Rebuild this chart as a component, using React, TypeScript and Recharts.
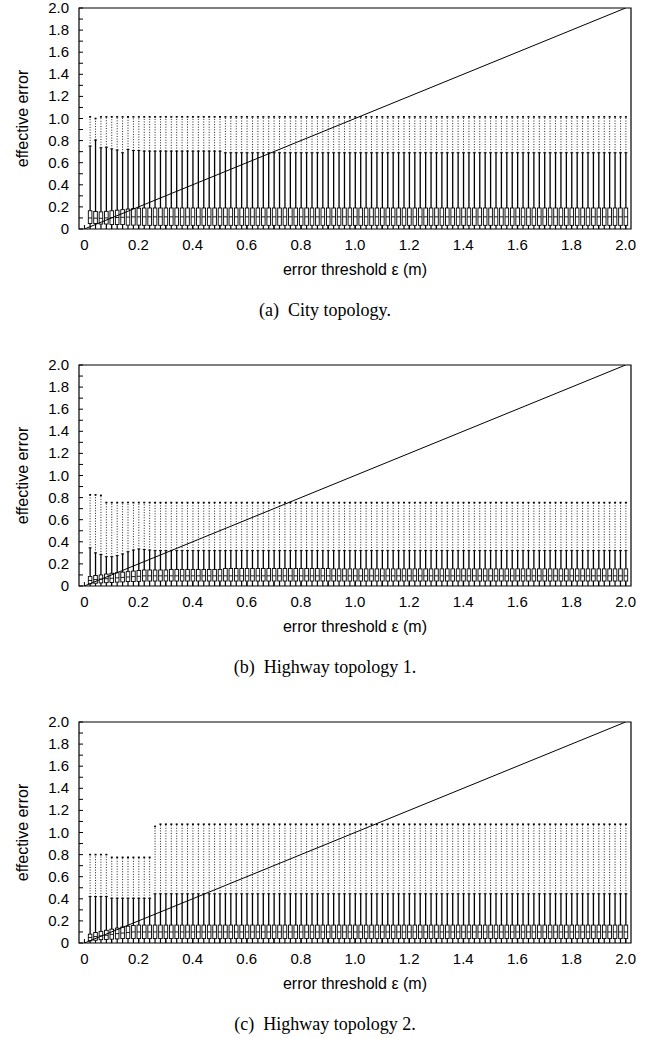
import { ComposedChart, Bar, Line, XAxis, YAxis, ReferenceArea } from 'recharts'

// error threshold ε (m) of each box
const thresholds = [
  0.02, 0.04, 0.06, 0.08, 0.10, 0.12, 0.14, 0.16, 0.18, 0.20,
  0.22, 0.24, 0.26, 0.28, 0.30, 0.32, 0.34, 0.36, 0.38, 0.40,
  0.42, 0.44, 0.46, 0.48, 0.50, 0.52, 0.54, 0.56, 0.58, 0.60,
  0.62, 0.64, 0.66, 0.68, 0.70, 0.72, 0.74, 0.76, 0.78, 0.80,
  0.82, 0.84, 0.86, 0.88, 0.90, 0.92, 0.94, 0.96, 0.98, 1.00,
  1.02, 1.04, 1.06, 1.08, 1.10, 1.12, 1.14, 1.16, 1.18, 1.20,
  1.22, 1.24, 1.26, 1.28, 1.30, 1.32, 1.34, 1.36, 1.38, 1.40,
  1.42, 1.44, 1.46, 1.48, 1.50, 1.52, 1.54, 1.56, 1.58, 1.60,
  1.62, 1.64, 1.66, 1.68, 1.70, 1.72, 1.74, 1.76, 1.78, 1.80,
  1.82, 1.84, 1.86, 1.88, 1.90, 1.92, 1.94, 1.96, 1.98, 2.00,
]

const MIN_ERR = 0

// (a) City topology
const cityQ1 = [
  0.050, 0.050, 0.045, 0.045, 0.040, 0.040, 0.040, 0.035, 0.035, 0.035,
  0.033, 0.033, 0.033, 0.033, 0.033, 0.033, 0.033, 0.033, 0.033, 0.033,
  0.033, 0.033, 0.033, 0.033, 0.033, 0.033, 0.033, 0.033, 0.033, 0.033,
  0.033, 0.033, 0.033, 0.033, 0.033, 0.033, 0.033, 0.033, 0.033, 0.033,
  0.033, 0.033, 0.033, 0.033, 0.033, 0.033, 0.033, 0.033, 0.033, 0.033,
  0.033, 0.033, 0.033, 0.033, 0.033, 0.033, 0.033, 0.033, 0.033, 0.033,
  0.033, 0.033, 0.033, 0.033, 0.033, 0.033, 0.033, 0.033, 0.033, 0.033,
  0.033, 0.033, 0.033, 0.033, 0.033, 0.033, 0.033, 0.033, 0.033, 0.033,
  0.033, 0.033, 0.033, 0.033, 0.033, 0.033, 0.033, 0.033, 0.033, 0.033,
  0.033, 0.033, 0.033, 0.033, 0.033, 0.033, 0.033, 0.033, 0.033, 0.033,
]
const cityMed = [
  0.100, 0.098, 0.097, 0.100, 0.102, 0.104, 0.106, 0.108, 0.110, 0.110,
  0.110, 0.110, 0.110, 0.110, 0.110, 0.110, 0.110, 0.110, 0.110, 0.110,
  0.110, 0.110, 0.110, 0.110, 0.110, 0.110, 0.110, 0.110, 0.110, 0.110,
  0.110, 0.110, 0.110, 0.110, 0.110, 0.110, 0.110, 0.110, 0.110, 0.110,
  0.110, 0.110, 0.110, 0.110, 0.110, 0.110, 0.110, 0.110, 0.110, 0.110,
  0.110, 0.110, 0.110, 0.110, 0.110, 0.110, 0.110, 0.110, 0.110, 0.110,
  0.110, 0.110, 0.110, 0.110, 0.110, 0.110, 0.110, 0.110, 0.110, 0.110,
  0.110, 0.110, 0.110, 0.110, 0.110, 0.110, 0.110, 0.110, 0.110, 0.110,
  0.110, 0.110, 0.110, 0.110, 0.110, 0.110, 0.110, 0.110, 0.110, 0.110,
  0.110, 0.110, 0.110, 0.110, 0.110, 0.110, 0.110, 0.110, 0.110, 0.110,
]
const cityQ3 = [
  0.165, 0.158, 0.155, 0.160, 0.165, 0.170, 0.175, 0.180, 0.185, 0.188,
  0.190, 0.190, 0.190, 0.190, 0.190, 0.190, 0.190, 0.190, 0.190, 0.190,
  0.190, 0.190, 0.190, 0.190, 0.190, 0.190, 0.190, 0.190, 0.190, 0.190,
  0.190, 0.190, 0.190, 0.190, 0.190, 0.190, 0.190, 0.190, 0.190, 0.190,
  0.190, 0.190, 0.190, 0.190, 0.190, 0.190, 0.190, 0.190, 0.190, 0.190,
  0.190, 0.190, 0.190, 0.190, 0.190, 0.190, 0.190, 0.190, 0.190, 0.190,
  0.190, 0.190, 0.190, 0.190, 0.190, 0.190, 0.190, 0.190, 0.190, 0.190,
  0.190, 0.190, 0.190, 0.190, 0.190, 0.190, 0.190, 0.190, 0.190, 0.190,
  0.190, 0.190, 0.190, 0.190, 0.190, 0.190, 0.190, 0.190, 0.190, 0.190,
  0.190, 0.190, 0.190, 0.190, 0.190, 0.190, 0.190, 0.190, 0.190, 0.190,
]
const cityHi = [
  0.750, 0.805, 0.735, 0.740, 0.725, 0.715, 0.690, 0.720, 0.710, 0.710,
  0.705, 0.705, 0.705, 0.705, 0.705, 0.705, 0.705, 0.705, 0.705, 0.705,
  0.705, 0.705, 0.705, 0.705, 0.705, 0.690, 0.690, 0.690, 0.690, 0.690,
  0.690, 0.690, 0.690, 0.690, 0.690, 0.690, 0.690, 0.690, 0.690, 0.690,
  0.690, 0.690, 0.690, 0.690, 0.690, 0.690, 0.690, 0.690, 0.690, 0.690,
  0.690, 0.690, 0.690, 0.690, 0.690, 0.690, 0.690, 0.690, 0.690, 0.690,
  0.690, 0.690, 0.690, 0.690, 0.690, 0.690, 0.690, 0.690, 0.690, 0.690,
  0.690, 0.690, 0.690, 0.690, 0.690, 0.690, 0.690, 0.690, 0.690, 0.690,
  0.690, 0.690, 0.690, 0.690, 0.690, 0.690, 0.690, 0.690, 0.690, 0.690,
  0.690, 0.690, 0.690, 0.690, 0.690, 0.690, 0.690, 0.690, 0.690, 0.690,
]
const cityMax = [
  1.015, 1.000, 1.015, 1.015, 1.015, 1.015, 1.015, 1.015, 1.015, 1.015,
  1.015, 1.015, 1.015, 1.015, 1.015, 1.015, 1.015, 1.015, 1.015, 1.015,
  1.015, 1.015, 1.015, 1.015, 1.015, 1.015, 1.015, 1.015, 1.015, 1.015,
  1.015, 1.015, 1.015, 1.015, 1.015, 1.015, 1.015, 1.015, 1.015, 1.015,
  1.015, 1.015, 1.015, 1.015, 1.015, 1.015, 1.015, 1.015, 1.015, 1.015,
  1.015, 1.015, 1.015, 1.015, 1.015, 1.015, 1.015, 1.015, 1.015, 1.015,
  1.015, 1.015, 1.015, 1.015, 1.015, 1.015, 1.015, 1.015, 1.015, 1.015,
  1.015, 1.015, 1.015, 1.015, 1.015, 1.015, 1.015, 1.015, 1.015, 1.015,
  1.015, 1.015, 1.015, 1.015, 1.015, 1.015, 1.015, 1.015, 1.015, 1.015,
  1.015, 1.015, 1.015, 1.015, 1.015, 1.015, 1.015, 1.015, 1.015, 1.015,
]

// (b) Highway topology 1
const hw1Q1 = [
  0.020, 0.025, 0.028, 0.030, 0.032, 0.035, 0.037, 0.040, 0.040, 0.042,
  0.045, 0.045, 0.045, 0.045, 0.045, 0.045, 0.045, 0.045, 0.045, 0.045,
  0.045, 0.045, 0.045, 0.045, 0.045, 0.045, 0.045, 0.045, 0.045, 0.045,
  0.045, 0.045, 0.045, 0.045, 0.045, 0.045, 0.045, 0.045, 0.045, 0.045,
  0.045, 0.045, 0.045, 0.045, 0.045, 0.045, 0.045, 0.045, 0.045, 0.045,
  0.045, 0.045, 0.045, 0.045, 0.045, 0.045, 0.045, 0.045, 0.045, 0.045,
  0.045, 0.045, 0.045, 0.045, 0.045, 0.045, 0.045, 0.045, 0.045, 0.045,
  0.045, 0.045, 0.045, 0.045, 0.045, 0.045, 0.045, 0.045, 0.045, 0.045,
  0.045, 0.045, 0.045, 0.045, 0.045, 0.045, 0.045, 0.045, 0.045, 0.045,
  0.045, 0.045, 0.045, 0.045, 0.045, 0.045, 0.045, 0.045, 0.045, 0.045,
]
const hw1Med = [
  0.050, 0.058, 0.062, 0.066, 0.070, 0.074, 0.078, 0.082, 0.085, 0.088,
  0.092, 0.092, 0.092, 0.092, 0.092, 0.092, 0.092, 0.092, 0.092, 0.092,
  0.092, 0.092, 0.092, 0.092, 0.092, 0.092, 0.092, 0.092, 0.092, 0.092,
  0.092, 0.092, 0.092, 0.092, 0.092, 0.092, 0.092, 0.092, 0.092, 0.092,
  0.092, 0.092, 0.092, 0.092, 0.092, 0.092, 0.092, 0.092, 0.092, 0.092,
  0.092, 0.092, 0.092, 0.092, 0.092, 0.092, 0.092, 0.092, 0.092, 0.092,
  0.092, 0.092, 0.092, 0.092, 0.092, 0.092, 0.092, 0.092, 0.092, 0.092,
  0.092, 0.092, 0.092, 0.092, 0.092, 0.092, 0.092, 0.092, 0.092, 0.092,
  0.092, 0.092, 0.092, 0.092, 0.092, 0.092, 0.092, 0.092, 0.092, 0.092,
  0.092, 0.092, 0.092, 0.092, 0.092, 0.092, 0.092, 0.092, 0.092, 0.092,
]
const hw1Q3 = [
  0.085, 0.095, 0.100, 0.108, 0.115, 0.120, 0.125, 0.130, 0.135, 0.140,
  0.145, 0.145, 0.145, 0.145, 0.145, 0.150, 0.150, 0.150, 0.150, 0.150,
  0.150, 0.150, 0.150, 0.150, 0.150, 0.158, 0.158, 0.158, 0.158, 0.158,
  0.158, 0.158, 0.158, 0.158, 0.158, 0.158, 0.158, 0.158, 0.158, 0.158,
  0.158, 0.158, 0.158, 0.158, 0.158, 0.155, 0.155, 0.155, 0.155, 0.155,
  0.155, 0.155, 0.155, 0.155, 0.155, 0.155, 0.155, 0.155, 0.155, 0.155,
  0.155, 0.155, 0.155, 0.155, 0.155, 0.155, 0.155, 0.155, 0.155, 0.155,
  0.155, 0.155, 0.155, 0.155, 0.155, 0.155, 0.155, 0.155, 0.155, 0.155,
  0.155, 0.155, 0.155, 0.155, 0.155, 0.155, 0.155, 0.155, 0.155, 0.155,
  0.155, 0.155, 0.155, 0.155, 0.155, 0.155, 0.155, 0.155, 0.155, 0.155,
]
const hw1Hi = [
  0.345, 0.300, 0.285, 0.265, 0.265, 0.275, 0.290, 0.310, 0.325, 0.335,
  0.330, 0.325, 0.320, 0.320, 0.320, 0.320, 0.320, 0.320, 0.320, 0.320,
  0.320, 0.320, 0.320, 0.320, 0.320, 0.320, 0.320, 0.320, 0.320, 0.320,
  0.320, 0.320, 0.320, 0.320, 0.320, 0.320, 0.320, 0.320, 0.320, 0.320,
  0.320, 0.320, 0.320, 0.320, 0.320, 0.320, 0.320, 0.320, 0.320, 0.320,
  0.320, 0.320, 0.320, 0.320, 0.320, 0.320, 0.320, 0.320, 0.320, 0.320,
  0.320, 0.320, 0.320, 0.320, 0.320, 0.320, 0.320, 0.320, 0.320, 0.320,
  0.320, 0.320, 0.320, 0.320, 0.320, 0.320, 0.320, 0.320, 0.320, 0.320,
  0.320, 0.320, 0.320, 0.320, 0.320, 0.320, 0.320, 0.320, 0.320, 0.320,
  0.320, 0.320, 0.320, 0.320, 0.320, 0.320, 0.320, 0.320, 0.320, 0.320,
]
const hw1Max = [
  0.825, 0.825, 0.820, 0.755, 0.755, 0.755, 0.755, 0.755, 0.755, 0.755,
  0.755, 0.755, 0.755, 0.755, 0.755, 0.755, 0.755, 0.755, 0.755, 0.755,
  0.755, 0.755, 0.755, 0.755, 0.755, 0.755, 0.755, 0.755, 0.755, 0.755,
  0.755, 0.755, 0.755, 0.755, 0.755, 0.755, 0.755, 0.755, 0.755, 0.755,
  0.755, 0.755, 0.755, 0.755, 0.755, 0.755, 0.755, 0.755, 0.755, 0.755,
  0.755, 0.755, 0.755, 0.755, 0.755, 0.755, 0.755, 0.755, 0.755, 0.755,
  0.755, 0.755, 0.755, 0.755, 0.755, 0.755, 0.755, 0.755, 0.755, 0.755,
  0.755, 0.755, 0.755, 0.755, 0.755, 0.755, 0.755, 0.755, 0.755, 0.755,
  0.755, 0.755, 0.755, 0.755, 0.755, 0.755, 0.755, 0.755, 0.755, 0.755,
  0.755, 0.755, 0.755, 0.755, 0.755, 0.755, 0.755, 0.755, 0.755, 0.755,
]

// (c) Highway topology 2
const hw2Q1 = [
  0.020, 0.025, 0.030, 0.032, 0.035, 0.037, 0.040, 0.040, 0.040, 0.040,
  0.040, 0.040, 0.040, 0.040, 0.040, 0.040, 0.040, 0.040, 0.040, 0.040,
  0.040, 0.040, 0.040, 0.040, 0.040, 0.040, 0.040, 0.040, 0.040, 0.040,
  0.040, 0.040, 0.040, 0.040, 0.040, 0.040, 0.040, 0.040, 0.040, 0.040,
  0.040, 0.040, 0.040, 0.040, 0.040, 0.040, 0.040, 0.040, 0.040, 0.040,
  0.040, 0.040, 0.040, 0.040, 0.040, 0.040, 0.040, 0.040, 0.040, 0.040,
  0.040, 0.040, 0.040, 0.040, 0.040, 0.040, 0.040, 0.040, 0.040, 0.040,
  0.040, 0.040, 0.040, 0.040, 0.040, 0.040, 0.040, 0.040, 0.040, 0.040,
  0.040, 0.040, 0.040, 0.040, 0.040, 0.040, 0.040, 0.040, 0.040, 0.040,
  0.040, 0.040, 0.040, 0.040, 0.040, 0.040, 0.040, 0.040, 0.040, 0.040,
]
const hw2Med = [
  0.050, 0.058, 0.065, 0.070, 0.078, 0.085, 0.090, 0.095, 0.100, 0.100,
  0.100, 0.100, 0.100, 0.100, 0.100, 0.100, 0.100, 0.100, 0.100, 0.100,
  0.100, 0.100, 0.100, 0.100, 0.100, 0.100, 0.100, 0.100, 0.100, 0.100,
  0.100, 0.100, 0.100, 0.100, 0.100, 0.100, 0.100, 0.100, 0.100, 0.100,
  0.100, 0.100, 0.100, 0.100, 0.100, 0.100, 0.100, 0.100, 0.100, 0.100,
  0.100, 0.100, 0.100, 0.100, 0.100, 0.100, 0.100, 0.100, 0.100, 0.100,
  0.100, 0.100, 0.100, 0.100, 0.100, 0.100, 0.100, 0.100, 0.100, 0.100,
  0.100, 0.100, 0.100, 0.100, 0.100, 0.100, 0.100, 0.100, 0.100, 0.100,
  0.100, 0.100, 0.100, 0.100, 0.100, 0.100, 0.100, 0.100, 0.100, 0.100,
  0.100, 0.100, 0.100, 0.100, 0.100, 0.100, 0.100, 0.100, 0.100, 0.100,
]
const hw2Q3 = [
  0.080, 0.095, 0.105, 0.115, 0.125, 0.135, 0.145, 0.152, 0.158, 0.162,
  0.162, 0.162, 0.162, 0.162, 0.162, 0.162, 0.162, 0.162, 0.162, 0.162,
  0.162, 0.162, 0.162, 0.162, 0.162, 0.162, 0.162, 0.162, 0.162, 0.162,
  0.162, 0.162, 0.162, 0.162, 0.162, 0.162, 0.162, 0.162, 0.162, 0.162,
  0.162, 0.162, 0.162, 0.162, 0.162, 0.162, 0.162, 0.162, 0.162, 0.162,
  0.162, 0.162, 0.162, 0.162, 0.162, 0.162, 0.162, 0.162, 0.162, 0.162,
  0.162, 0.162, 0.162, 0.162, 0.162, 0.162, 0.162, 0.162, 0.162, 0.162,
  0.162, 0.162, 0.162, 0.162, 0.162, 0.162, 0.162, 0.162, 0.162, 0.162,
  0.162, 0.162, 0.162, 0.162, 0.162, 0.162, 0.162, 0.162, 0.162, 0.162,
  0.162, 0.162, 0.162, 0.162, 0.162, 0.162, 0.162, 0.162, 0.162, 0.162,
]
const hw2Hi = [
  0.420, 0.420, 0.420, 0.420, 0.405, 0.405, 0.405, 0.405, 0.405, 0.405,
  0.405, 0.405, 0.445, 0.445, 0.445, 0.445, 0.445, 0.445, 0.445, 0.445,
  0.445, 0.445, 0.445, 0.445, 0.445, 0.445, 0.445, 0.445, 0.445, 0.445,
  0.445, 0.445, 0.445, 0.445, 0.445, 0.445, 0.445, 0.445, 0.445, 0.445,
  0.445, 0.445, 0.445, 0.445, 0.445, 0.445, 0.445, 0.445, 0.445, 0.445,
  0.445, 0.445, 0.445, 0.445, 0.445, 0.445, 0.445, 0.445, 0.445, 0.445,
  0.445, 0.445, 0.445, 0.445, 0.445, 0.445, 0.445, 0.445, 0.445, 0.445,
  0.445, 0.445, 0.445, 0.445, 0.445, 0.445, 0.445, 0.445, 0.445, 0.445,
  0.445, 0.445, 0.445, 0.445, 0.445, 0.445, 0.445, 0.445, 0.445, 0.445,
  0.445, 0.445, 0.445, 0.445, 0.445, 0.445, 0.445, 0.445, 0.445, 0.445,
]
const hw2Max = [
  0.800, 0.800, 0.800, 0.800, 0.775, 0.775, 0.775, 0.775, 0.775, 0.775,
  0.775, 0.775, 1.055, 1.075, 1.075, 1.075, 1.075, 1.075, 1.075, 1.075,
  1.075, 1.075, 1.075, 1.075, 1.075, 1.075, 1.075, 1.075, 1.075, 1.075,
  1.075, 1.075, 1.075, 1.075, 1.075, 1.075, 1.075, 1.075, 1.075, 1.075,
  1.075, 1.075, 1.075, 1.075, 1.075, 1.075, 1.075, 1.075, 1.075, 1.075,
  1.075, 1.075, 1.075, 1.075, 1.075, 1.075, 1.075, 1.075, 1.075, 1.075,
  1.075, 1.075, 1.075, 1.075, 1.075, 1.075, 1.075, 1.075, 1.075, 1.075,
  1.075, 1.075, 1.075, 1.075, 1.075, 1.075, 1.075, 1.075, 1.075, 1.075,
  1.075, 1.075, 1.075, 1.075, 1.075, 1.075, 1.075, 1.075, 1.075, 1.075,
  1.075, 1.075, 1.075, 1.075, 1.075, 1.075, 1.075, 1.075, 1.075, 1.075,
]

// y = x reference line
const diagonalX = [0, 2]
const diagonalY = [0, 2]

const X_DOMAIN: [number, number] = [-0.02, 2.02]
const Y_DOMAIN: [number, number] = [0, 2]
const xTicks = [0, 0.1, 0.2, 0.3, 0.4, 0.5, 0.6, 0.7, 0.8, 0.9, 1.0, 1.1, 1.2, 1.3, 1.4, 1.5, 1.6, 1.7, 1.8, 1.9, 2.0]
const yTicks = [0, 0.1, 0.2, 0.3, 0.4, 0.5, 0.6, 0.7, 0.8, 0.9, 1.0, 1.1, 1.2, 1.3, 1.4, 1.5, 1.6, 1.7, 1.8, 1.9, 2.0]

const SANS = '"Liberation Sans", Arial, Helvetica, sans-serif'
const SERIF = '"Liberation Serif", "Times New Roman", serif'
const TICK = 4
const TICK_FONT = 15
const TITLE_FONT = 16

const diagonal = diagonalX.map((x, i) => ({ x, y: diagonalY[i] }))

function buildRows(q1: number[], med: number[], q3: number[], hi: number[], max: number[]) {
  return thresholds.map((x, i) => ({ x, q1: q1[i], med: med[i], q3: q3[i], hi: hi[i], max: max[i] }))
}

const isLabelled = (v: number) => Math.round(v * 10) % 2 === 0
const fmt = (v: number) => (v === 0 ? '0' : v.toFixed(1))

function BottomTick({ x, y, payload }: any) {
  const v = payload.value
  return (
    <g>
      <line x1={x} x2={x} y1={y} y2={y - TICK} stroke="#000" />
      {isLabelled(v) && (
        <text x={x} y={y + 21} textAnchor="middle" fontFamily={SANS} fontSize={TICK_FONT} fill="#000">
          {fmt(v)}
        </text>
      )}
    </g>
  )
}

function TopTick({ x, y }: any) {
  return <line x1={x} x2={x} y1={y} y2={y + TICK} stroke="#000" />
}

function LeftTick({ x, y, payload }: any) {
  const v = payload.value
  return (
    <g>
      <line x1={x} x2={x + TICK} y1={y} y2={y} stroke="#000" />
      {isLabelled(v) && (
        <text x={x - 10} y={y + 5} textAnchor="end" fontFamily={SANS} fontSize={TICK_FONT} fill="#000">
          {fmt(v)}
        </text>
      )}
    </g>
  )
}

function RightTick({ x, y }: any) {
  return <line x1={x} x2={x - TICK} y1={y} y2={y} stroke="#000" />
}

// one box: solid whiskers to 0 and to hi, box q1..q3 with median, dotted line up to max
function BoxShape(props: any) {
  const { x, y, width, height, payload } = props
  if (!payload || height == null) return null
  const bottom = y + height
  const span = payload.max - MIN_ERR
  const py = (v: number) => bottom - ((v - MIN_ERR) / span) * height
  const cx = x + width / 2
  const hw = 1.8
  return (
    <g>
      <line x1={cx} x2={cx} y1={py(MIN_ERR)} y2={py(payload.q1)} stroke="#000" strokeWidth={1.2} />
      <line x1={cx} x2={cx} y1={py(payload.q3)} y2={py(payload.hi)} stroke="#000" strokeWidth={1.3} />
      <line x1={cx - 1.5} x2={cx + 1.5} y1={py(payload.hi)} y2={py(payload.hi)} stroke="#000" strokeWidth={1} />
      <line
        x1={cx}
        x2={cx}
        y1={py(payload.hi)}
        y2={py(payload.max)}
        stroke="#222"
        strokeWidth={1}
        strokeDasharray="1 1.6"
      />
      <line x1={cx - 1} x2={cx + 1} y1={py(payload.max)} y2={py(payload.max)} stroke="#000" strokeWidth={1.6} />
      <rect
        x={cx - hw}
        y={py(payload.q3)}
        width={hw * 2}
        height={py(payload.q1) - py(payload.q3)}
        fill="#fff"
        stroke="#000"
        strokeWidth={0.9}
      />
      <line x1={cx - hw} x2={cx + hw} y1={py(payload.med)} y2={py(payload.med)} stroke="#000" strokeWidth={0.9} />
    </g>
  )
}

function Panel({ rows, caption }: { rows: any[]; caption: string }) {
  return (
    <div style={{ position: 'relative', width: 650, height: 357 }}>
      <ComposedChart width={650} height={290} data={rows} margin={{ top: 8, right: 19, left: 0, bottom: 0 }}>
        <XAxis
          dataKey="x"
          type="number"
          domain={X_DOMAIN}
          ticks={xTicks}
          interval={0}
          allowDataOverflow
          height={61}
          tickSize={0}
          tickMargin={0}
          tickLine={false}
          axisLine={false}
          tick={<BottomTick />}
          label={(p: any) => {
            const vb = p.viewBox
            return (
              <text x={vb.x + vb.width / 2} y={vb.y + 46} textAnchor="middle" fontFamily={SANS} fontSize={TITLE_FONT} fill="#000">
                error threshold ε (m)
              </text>
            )
          }}
        />
        <XAxis
          xAxisId="top"
          orientation="top"
          type="number"
          domain={X_DOMAIN}
          ticks={xTicks}
          interval={0}
          allowDataOverflow
          height={0}
          tickSize={0}
          tickMargin={0}
          tickLine={false}
          axisLine={false}
          tick={<TopTick />}
        />
        <YAxis
          type="number"
          domain={Y_DOMAIN}
          ticks={yTicks}
          interval={0}
          allowDataOverflow
          width={79}
          tickSize={0}
          tickMargin={0}
          tickLine={false}
          axisLine={false}
          tick={<LeftTick />}
          label={(p: any) => {
            const vb = p.viewBox
            const cy = vb.y + vb.height / 2
            return (
              <text
                x={22}
                y={cy}
                transform={`rotate(-90 22 ${cy})`}
                textAnchor="middle"
                dominantBaseline="central"
                fontFamily={SANS}
                fontSize={TITLE_FONT}
                fill="#000"
              >
                effective error
              </text>
            )
          }}
        />
        <YAxis
          yAxisId="right"
          orientation="right"
          type="number"
          domain={Y_DOMAIN}
          ticks={yTicks}
          interval={0}
          allowDataOverflow
          width={0}
          tickSize={0}
          tickMargin={0}
          tickLine={false}
          axisLine={false}
          tick={<RightTick />}
        />
        <Bar dataKey={(d: any) => [MIN_ERR, d.max]} barSize={4} shape={<BoxShape />} isAnimationActive={false} />
        <Line
          data={diagonal}
          dataKey="y"
          type="linear"
          stroke="#000"
          strokeWidth={1}
          dot={false}
          activeDot={false}
          isAnimationActive={false}
        />
        <ReferenceArea
          x1={X_DOMAIN[0]}
          x2={X_DOMAIN[1]}
          y1={Y_DOMAIN[0]}
          y2={Y_DOMAIN[1]}
          fill="none"
          fillOpacity={0}
          stroke="#000"
          strokeWidth={1.2}
          ifOverflow="visible"
        />
      </ComposedChart>
      <div
        style={{
          position: 'absolute',
          top: 299,
          left: 0,
          width: 650,
          textAlign: 'center',
          fontFamily: SERIF,
          fontSize: 18,
          lineHeight: '22px',
          whiteSpace: 'pre',
          color: '#000',
        }}
      >
        {caption}
      </div>
    </div>
  )
}

export default function App() {
  return (
    <div style={{ position: 'absolute', left: 0, top: 0, width: 650, height: 1038, background: '#fff', overflow: 'hidden' }}>
      <Panel rows={buildRows(cityQ1, cityMed, cityQ3, cityHi, cityMax)} caption="(a)  City topology." />
      <Panel rows={buildRows(hw1Q1, hw1Med, hw1Q3, hw1Hi, hw1Max)} caption="(b)  Highway topology 1." />
      <Panel rows={buildRows(hw2Q1, hw2Med, hw2Q3, hw2Hi, hw2Max)} caption="(c)  Highway topology 2." />
    </div>
  )
}
